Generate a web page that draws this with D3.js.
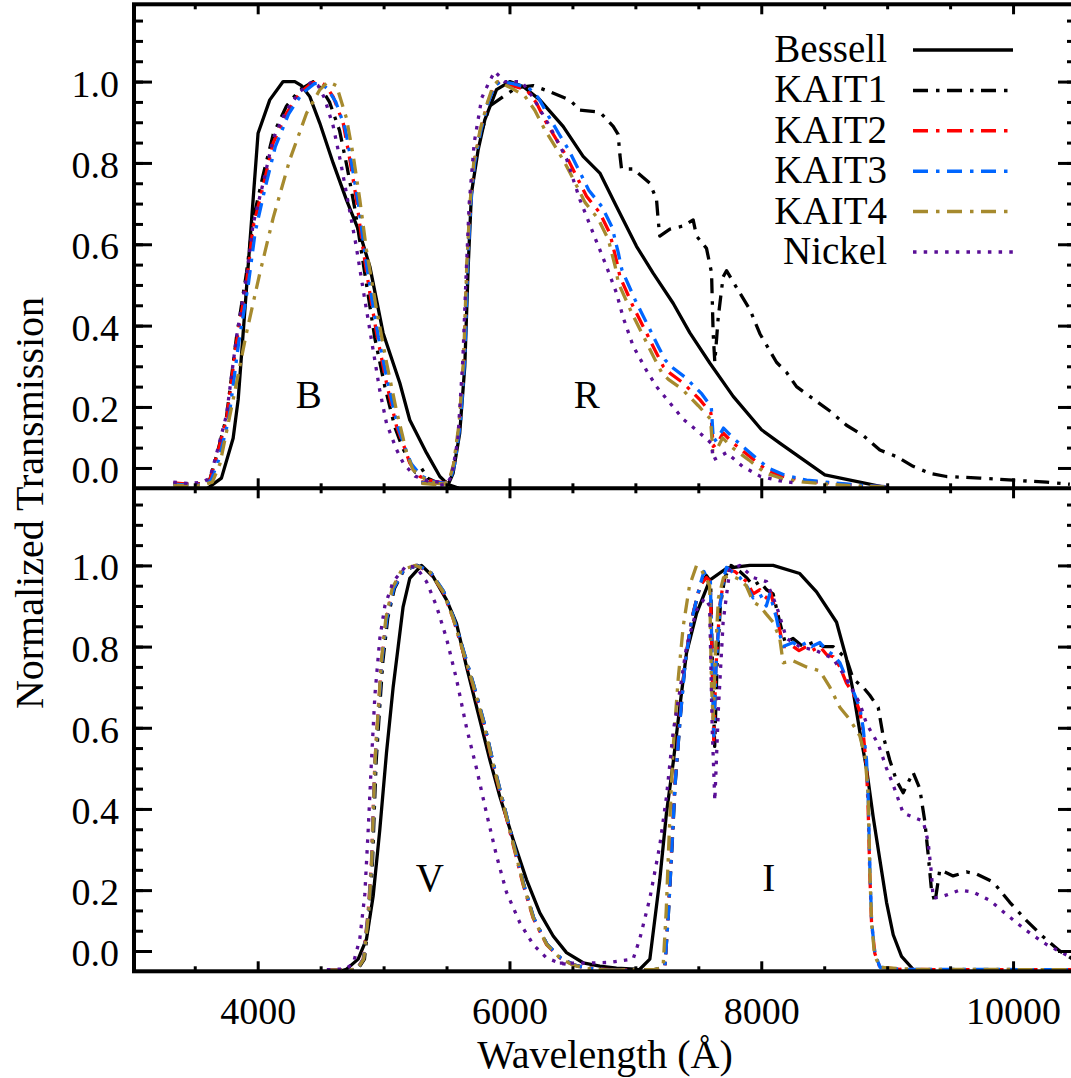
<!DOCTYPE html>
<html>
<head>
<meta charset="utf-8">
<script src="https://cdn.jsdelivr.net/npm/d3@7"></script>
<style>
  body { margin: 0; background: #fff; }
</style>
</head>
<body>
<svg id="chart" width="1071" height="1078"></svg>
<script>
// ---- filter curves, [wavelength (A), normalized transmission] ----

// top panel : B and R
var besselB = [[3600,0],[3620,0.004],[3712,0.025],[3805,0.123],[3845,0.218],[4003,0.873],[4096,0.955],[4202,1.0],[4295,1.0],[4348,0.99],[4414,0.963],[4493,0.898],[4599,0.80],[4705,0.709],[4811,0.627],[4891,0.545],[4996,0.382],[5129,0.259],[5208,0.168],[5341,0.087],[5447,0.029],[5513,0.009],[5600,0.0]];
var besselR = [[5513,0.009],[5552,0.037],[5605,0.136],[5645,0.30],[5672,0.545],[5698,0.726],[5751,0.832],[5804,0.906],[5897,0.98],[6003,1.0],[6109,0.988],[6241,0.955],[6426,0.89],[6585,0.816],[6718,0.775],[6850,0.693],[7009,0.595],[7141,0.529],[7300,0.455],[7433,0.382],[7591,0.308],[7777,0.226],[8002,0.144],[8147,0.111],[8505,0.033],[9021,0.0]];

var kait1B = [[3330,0.012],[3450,0.01],[3560,0.012],[3620,0.022],[3673,0.08],[3752,0.175],[3831,0.37],[3911,0.53],[3964,0.66],[4043,0.77],[4123,0.87],[4229,0.94],[4335,0.98],[4441,1.0],[4500,0.985],[4570,0.95],[4650,0.88],[4710,0.79],[4770,0.69],[4825,0.58],[4880,0.47],[4930,0.37],[5010,0.25],[5090,0.15],[5150,0.1],[5200,0.07],[5250,0.04],[5300,0.05],[5350,0.025],[5420,0.015],[5500,0.012]];
var kait1R = [[5300,0.015],[5400,0.012],[5480,0.012],[5526,0.02],[5560,0.06],[5605,0.16],[5640,0.32],[5665,0.55],[5690,0.70],[5720,0.80],[5770,0.87],[5844,0.94],[5950,0.963],[6056,0.985],[6188,0.99],[6320,0.975],[6479,0.955],[6559,0.93],[6718,0.925],[6824,0.89],[6863,0.87],[6877,0.82],[6890,0.785],[6982,0.785],[7115,0.75],[7168,0.71],[7181,0.66],[7194,0.62],[7274,0.637],[7380,0.645],[7459,0.66],[7486,0.62],[7565,0.59],[7605,0.53],[7618,0.38],[7631,0.31],[7658,0.42],[7697,0.52],[7724,0.535],[7830,0.48],[7909,0.44],[7989,0.38],[8121,0.31],[8201,0.285],[8280,0.25],[8412,0.22],[8545,0.19],[8677,0.155],[8809,0.13],[8942,0.094],[9074,0.078],[9206,0.054],[9339,0.037],[9471,0.029],[9736,0.025],[10000,0.02],[10267,0.015],[10451,0.01]];

var kait2B = [[3330,0.013],[3450,0.01],[3560,0.012],[3620,0.02],[3673,0.078],[3752,0.168],[3831,0.357],[3911,0.505],[3964,0.644],[4043,0.742],[4123,0.849],[4229,0.922],[4335,0.972],[4428,0.996],[4490,1.0],[4540,0.99],[4599,0.963],[4679,0.898],[4732,0.808],[4785,0.709],[4838,0.586],[4891,0.48],[4944,0.382],[5023,0.259],[5103,0.152],[5155,0.11],[5208,0.062],[5288,0.029],[5394,0.017],[5500,0.013]];
var kait2R = [[5300,0.015],[5400,0.012],[5480,0.012],[5526,0.02],[5560,0.06],[5605,0.16],[5640,0.32],[5665,0.55],[5690,0.70],[5720,0.80],[5770,0.88],[5830,0.95],[5880,0.99],[5923,1.0],[6020,0.99],[6135,0.98],[6215,0.947],[6294,0.898],[6374,0.857],[6453,0.816],[6532,0.767],[6612,0.718],[6718,0.677],[6797,0.627],[6850,0.56],[6877,0.521],[6982,0.447],[7088,0.382],[7168,0.332],[7221,0.30],[7274,0.283],[7380,0.259],[7512,0.218],[7600,0.185],[7618,0.103],[7650,0.11],[7697,0.136],[7777,0.111],[7909,0.078],[8042,0.045],[8174,0.029],[8350,0.018],[8545,0.013],[8800,0.006],[9000,0.004]];

var kait3B = [[3330,0.01],[3450,0.008],[3560,0.01],[3630,0.02],[3690,0.07],[3770,0.17],[3850,0.36],[3925,0.5],[3980,0.63],[4060,0.74],[4140,0.84],[4245,0.92],[4350,0.97],[4450,0.995],[4510,0.995],[4560,0.98],[4620,0.95],[4695,0.885],[4745,0.80],[4800,0.70],[4850,0.58],[4905,0.47],[4960,0.37],[5040,0.25],[5115,0.15],[5170,0.10],[5220,0.06],[5300,0.03],[5400,0.016],[5500,0.012]];
var kait3R = [[5300,0.014],[5400,0.011],[5480,0.011],[5530,0.02],[5565,0.06],[5610,0.16],[5645,0.32],[5668,0.55],[5693,0.70],[5723,0.80],[5773,0.88],[5833,0.95],[5883,0.99],[5930,1.0],[6030,0.995],[6150,0.985],[6230,0.96],[6310,0.915],[6390,0.873],[6470,0.832],[6550,0.783],[6630,0.733],[6735,0.692],[6815,0.642],[6865,0.578],[6893,0.537],[7000,0.462],[7105,0.397],[7185,0.347],[7238,0.315],[7290,0.298],[7396,0.273],[7528,0.232],[7603,0.2],[7620,0.115],[7652,0.122],[7700,0.148],[7790,0.12],[7920,0.085],[8055,0.05],[8190,0.032],[8360,0.02],[8555,0.014],[8800,0.007],[9000,0.004]];

var kait4B = [[3330,0.008],[3450,0.006],[3560,0.008],[3640,0.015],[3700,0.06],[3805,0.218],[3911,0.382],[4017,0.529],[4123,0.665],[4255,0.808],[4388,0.922],[4493,0.98],[4560,1.0],[4626,0.99],[4705,0.91],[4758,0.82],[4811,0.71],[4864,0.586],[4944,0.44],[5023,0.31],[5103,0.19],[5150,0.13],[5180,0.09],[5234,0.045],[5341,0.02],[5420,0.012],[5500,0.01]];
var kait4R = [[5300,0.012],[5400,0.01],[5480,0.01],[5522,0.02],[5556,0.06],[5600,0.16],[5636,0.32],[5661,0.55],[5686,0.70],[5716,0.80],[5766,0.88],[5826,0.95],[5870,0.99],[5905,1.0],[6010,0.985],[6120,0.965],[6200,0.93],[6280,0.882],[6360,0.842],[6440,0.80],[6520,0.752],[6600,0.703],[6705,0.662],[6785,0.612],[6840,0.545],[6865,0.505],[6970,0.432],[7075,0.367],[7155,0.317],[7208,0.285],[7262,0.268],[7370,0.244],[7500,0.203],[7597,0.17],[7615,0.09],[7648,0.097],[7693,0.124],[7770,0.1],[7900,0.07],[8030,0.038],[8165,0.024],[8340,0.015],[8540,0.01],[8800,0.005],[9000,0.003]];

var nickelB = [[3330,0.015],[3450,0.012],[3560,0.015],[3620,0.025],[3673,0.085],[3752,0.18],[3831,0.37],[3911,0.52],[3964,0.65],[4043,0.75],[4123,0.86],[4229,0.93],[4335,0.975],[4430,1.0],[4480,0.99],[4530,0.96],[4600,0.89],[4660,0.80],[4720,0.70],[4780,0.60],[4838,0.488],[4917,0.34],[4970,0.24],[5023,0.16],[5103,0.095],[5160,0.06],[5250,0.03],[5350,0.018],[5450,0.015]];
var nickelR = [[5450,0.008],[5500,0.01],[5540,0.03],[5590,0.12],[5630,0.32],[5655,0.52],[5680,0.70],[5720,0.85],[5780,0.96],[5840,1.0],[5883,1.025],[5960,1.0],[6096,1.0],[6188,0.96],[6320,0.89],[6453,0.81],[6559,0.71],[6665,0.627],[6771,0.545],[6850,0.48],[6903,0.42],[6982,0.35],[7088,0.29],[7168,0.25],[7247,0.22],[7380,0.17],[7512,0.136],[7605,0.11],[7618,0.07],[7650,0.075],[7724,0.088],[7850,0.054],[7989,0.03],[8150,0.018],[8300,0.012]];

// bottom panel : V and I
var besselV = [[4650,0.0],[4705,0.005],[4798,0.03],[4864,0.079],[4917,0.185],[4970,0.349],[5023,0.538],[5076,0.70],[5116,0.80],[5155,0.898],[5208,0.968],[5301,1.0],[5394,0.972],[5500,0.915],[5579,0.857],[5659,0.75],[5764,0.62],[5844,0.521],[5923,0.431],[6029,0.325],[6135,0.226],[6241,0.144],[6347,0.087],[6453,0.046],[6585,0.021],[6718,0.013],[6850,0.008],[7000,0.005]];
var besselI = [[6900,0.0],[7035,0.005],[7115,0.03],[7194,0.226],[7247,0.39],[7300,0.513],[7353,0.652],[7406,0.784],[7486,0.882],[7591,0.964],[7724,0.993],[7909,1.0],[8094,1.0],[8306,0.98],[8439,0.935],[8598,0.86],[8677,0.77],[8730,0.69],[8783,0.59],[8836,0.50],[8889,0.38],[8942,0.275],[8995,0.17],[9048,0.09],[9114,0.037],[9206,0.005],[9300,0.0]];

var kait1V = [[4550,0.003],[4700,0.003],[4795,0.005],[4848,0.03],[4888,0.148],[4912,0.271],[4926,0.394],[4941,0.517],[4967,0.64],[4994,0.763],[5033,0.87],[5086,0.943],[5160,0.988],[5270,1.0],[5372,0.984],[5478,0.935],[5557,0.87],[5637,0.787],[5716,0.705],[5796,0.615],[5875,0.508],[5955,0.41],[6034,0.312],[6114,0.213],[6193,0.131],[6299,0.066],[6405,0.033],[6510,0.016],[6612,0.008],[6800,0.004],[7000,0.003]];
var kait1I = [[6800,0.003],[7150,0.004],[7234,0.01],[7262,0.14],[7290,0.30],[7316,0.46],[7355,0.62],[7395,0.76],[7450,0.87],[7515,0.95],[7565,0.975],[7598,0.96],[7612,0.75],[7630,0.554],[7648,0.75],[7675,0.9],[7710,0.97],[7760,1.0],[7830,0.985],[7883,0.97],[7936,0.95],[7989,0.96],[8042,0.94],[8094,0.93],[8147,0.86],[8190,0.81],[8253,0.82],[8330,0.80],[8410,0.81],[8500,0.80],[8572,0.80],[8677,0.77],[8730,0.72],[8809,0.70],[8862,0.68],[8929,0.65],[8968,0.58],[9021,0.52],[9074,0.47],[9127,0.44],[9206,0.49],[9259,0.45],[9299,0.37],[9325,0.29],[9352,0.20],[9380,0.17],[9418,0.25],[9524,0.235],[9630,0.245],[9710,0.24],[9842,0.22],[9974,0.17],[10107,0.125],[10239,0.085],[10371,0.05],[10500,0.025]];

var kait2V = [[4550,0.003],[4700,0.003],[4785,0.005],[4838,0.03],[4878,0.148],[4904,0.271],[4917,0.394],[4931,0.517],[4957,0.64],[4984,0.763],[5023,0.87],[5076,0.943],[5155,0.988],[5261,1.0],[5367,0.984],[5473,0.935],[5552,0.87],[5632,0.787],[5711,0.705],[5791,0.615],[5870,0.508],[5950,0.41],[6029,0.312],[6109,0.213],[6188,0.131],[6294,0.066],[6400,0.033],[6506,0.016],[6612,0.008],[6800,0.004],[7000,0.003]];
var kait2I = [[6800,0.003],[7100,0.003],[7200,0.005],[7234,0.01],[7260,0.14],[7287,0.30],[7313,0.46],[7353,0.62],[7393,0.76],[7446,0.866],[7512,0.95],[7565,0.97],[7595,0.96],[7610,0.75],[7622,0.57],[7640,0.75],[7670,0.90],[7700,0.96],[7724,0.99],[7790,0.985],[7830,0.975],[7883,0.96],[7936,0.93],[7989,0.94],[8040,0.92],[8068,0.94],[8121,0.88],[8147,0.84],[8174,0.80],[8253,0.80],[8300,0.79],[8359,0.80],[8400,0.79],[8466,0.80],[8520,0.78],[8572,0.775],[8625,0.75],[8677,0.71],[8730,0.685],[8783,0.64],[8809,0.59],[8836,0.50],[8849,0.40],[8862,0.24],[8876,0.12],[8902,0.044],[8942,0.01],[9100,0.005],[9500,0.004],[10000,0.004],[10500,0.004]];

var kait3V = [[4550,0.002],[4700,0.002],[4788,0.005],[4840,0.03],[4880,0.148],[4906,0.271],[4919,0.394],[4933,0.517],[4959,0.64],[4986,0.763],[5026,0.87],[5080,0.943],[5158,0.988],[5265,1.0],[5370,0.985],[5476,0.937],[5555,0.872],[5635,0.79],[5714,0.708],[5794,0.618],[5873,0.511],[5953,0.413],[6032,0.315],[6112,0.215],[6191,0.133],[6297,0.067],[6403,0.034],[6509,0.016],[6615,0.008],[6800,0.003],[7000,0.002]];
var kait3I = [[6800,0.003],[7150,0.003],[7234,0.01],[7262,0.14],[7289,0.30],[7315,0.46],[7355,0.62],[7395,0.76],[7448,0.866],[7512,0.95],[7545,0.985],[7565,0.97],[7596,0.96],[7611,0.75],[7623,0.58],[7641,0.75],[7672,0.90],[7702,0.97],[7724,0.995],[7790,0.98],[7830,0.97],[7883,0.95],[7936,0.92],[7989,0.93],[8040,0.90],[8068,0.93],[8121,0.87],[8147,0.83],[8174,0.80],[8253,0.81],[8300,0.80],[8359,0.81],[8400,0.80],[8466,0.81],[8520,0.79],[8572,0.78],[8625,0.76],[8677,0.72],[8730,0.69],[8783,0.65],[8809,0.60],[8836,0.52],[8850,0.42],[8863,0.25],[8877,0.12],[8903,0.044],[8943,0.01],[9100,0.005],[10500,0.004]];

var kait4V = [[4550,0.003],[4700,0.003],[4790,0.005],[4842,0.03],[4882,0.148],[4906,0.271],[4919,0.394],[4932,0.517],[4957,0.64],[4982,0.763],[5018,0.87],[5068,0.943],[5145,0.99],[5255,1.0],[5362,0.986],[5470,0.937],[5550,0.872],[5630,0.79],[5710,0.707],[5790,0.617],[5870,0.51],[5950,0.412],[6030,0.314],[6110,0.214],[6190,0.131],[6296,0.066],[6402,0.032],[6508,0.015],[6612,0.007],[6800,0.003],[7000,0.003]];
var kait4I = [[6800,0.003],[7150,0.004],[7220,0.01],[7245,0.15],[7270,0.35],[7300,0.55],[7340,0.72],[7380,0.85],[7430,0.95],[7486,1.0],[7520,0.99],[7560,0.97],[7590,0.95],[7605,0.70],[7618,0.62],[7635,0.78],[7660,0.92],[7700,0.97],[7760,0.975],[7830,0.965],[7880,0.95],[7936,0.91],[7989,0.90],[8040,0.88],[8094,0.86],[8147,0.82],[8174,0.76],[8253,0.765],[8359,0.75],[8466,0.74],[8545,0.70],[8625,0.65],[8704,0.62],[8783,0.58],[8823,0.53],[8849,0.44],[8862,0.25],[8876,0.12],[8900,0.04],[8942,0.01],[9200,0.005],[10500,0.004]];

var nickelV = [[4550,0.004],[4700,0.006],[4760,0.02],[4811,0.08],[4851,0.19],[4878,0.35],[4904,0.52],[4931,0.68],[4970,0.82],[5010,0.90],[5076,0.96],[5182,1.0],[5261,0.995],[5341,0.96],[5420,0.90],[5500,0.82],[5579,0.72],[5659,0.60],[5738,0.50],[5817,0.39],[5897,0.285],[5976,0.195],[6082,0.12],[6188,0.066],[6294,0.033],[6400,0.02],[6500,0.015]];
var nickelI = [[6400,0.02],[6600,0.02],[6800,0.022],[6982,0.03],[7035,0.08],[7115,0.18],[7194,0.31],[7247,0.43],[7300,0.59],[7353,0.69],[7406,0.80],[7486,0.89],[7552,0.92],[7590,0.90],[7610,0.60],[7631,0.42],[7660,0.65],[7697,0.86],[7750,0.99],[7830,1.0],[7936,0.97],[8042,0.96],[8121,0.90],[8201,0.82],[8306,0.80],[8439,0.79],[8572,0.77],[8677,0.72],[8783,0.66],[8836,0.61],[8929,0.56],[8995,0.50],[9047,0.46],[9127,0.39],[9206,0.38],[9286,0.37],[9325,0.32],[9352,0.24],[9365,0.18],[9445,0.185],[9577,0.20],[9683,0.195],[9815,0.175],[9948,0.14],[10107,0.10],[10266,0.066],[10425,0.04],[10500,0.03]];

// legend / axes
var filterNames = ["Bessell", "KAIT1", "KAIT2", "KAIT3", "KAIT4", "Nickel"];
var xMajorTicks = [4000, 6000, 8000, 10000];
var yMajorTicks = [0.05, 0.2, 0.4, 0.6, 0.8, 1.0];
var yTickLabels = ["0.0", "0.2", "0.4", "0.6", "0.8", "1.0"];

// ---- drawing ----
var serif = "'Liberation Serif', 'Times New Roman', Times, serif";
var svg = d3.select("#chart").style("font-family", serif);
var frameL = 134, frameR = 1076;

var styles = {
  Bessell: {color: "#000000", dash: null},
  KAIT1:   {color: "#000000", dash: "15,8,3.5,7.5"},
  KAIT2:   {color: "#ff0000", dash: "15,8,3.5,7.5"},
  KAIT3:   {color: "#0066ff", dash: "15,8,3.5,7.5"},
  KAIT4:   {color: "#a68a2e", dash: "15,8,3.5,7.5"},
  Nickel:  {color: "#5a0f96", dash: "3.5,7.2"}
};

var x = d3.scaleLinear().domain([3000, 10500]).range([131.8, 1076]);

var panels = [
  {top: 4.3, bottom: 488.3,
   curves: {Bessell: [besselB, besselR], KAIT1: [kait1B, kait1R], KAIT2: [kait2B, kait2R],
            KAIT3: [kait3B, kait3R], KAIT4: [kait4B, kait4R], Nickel: [nickelB, nickelR]},
   bands: [{t: "B", w: 4406}, {t: "R", w: 6614}]},
  {top: 488.3, bottom: 971.3,
   curves: {Bessell: [besselV, besselI], KAIT1: [kait1V, kait1I], KAIT2: [kait2V, kait2I],
            KAIT3: [kait3V, kait3I], KAIT4: [kait4V, kait4I], Nickel: [nickelV, nickelI]},
   bands: [{t: "V", w: 5367}, {t: "I", w: 8060}]}
];

var defs = svg.append("defs");

panels.forEach(function(p, pi) {
  var y = d3.scaleLinear().domain([0, 1.19]).range([p.bottom, p.top]);
  var clipId = "clip" + pi;
  defs.append("clipPath").attr("id", clipId)
    .append("rect").attr("x", frameL).attr("y", p.top)
    .attr("width", frameR - frameL).attr("height", p.bottom - p.top);

  var line = d3.line()
      .x(function(d) { return x(d[0]); })
      .y(function(d) { return y(d[1]); });

  var g = svg.append("g").attr("clip-path", "url(#" + clipId + ")");
  filterNames.forEach(function(name) {
    p.curves[name].forEach(function(series) {
      g.append("path")
        .datum(series)
        .attr("d", line)
        .attr("fill", "none")
        .attr("stroke", styles[name].color)
        .attr("stroke-width", 3.3)
        .attr("stroke-linejoin", "round")
        .attr("stroke-dasharray", styles[name].dash);
    });
  });

  // band letters
  p.bands.forEach(function(b) {
    svg.append("text")
      .attr("x", x(b.w))
      .attr("y", y(0.197))
      .attr("text-anchor", "middle")
      .attr("font-size", 39)
      .text(b.t);
  });

  // y axes, minor then major, left and right
  var minor = d3.range(0.1, 1.16, 0.05);
  svg.append("g").attr("transform", "translate(" + frameL + ",0)")
    .call(d3.axisLeft(y).tickValues(minor).tickSize(-9).tickFormat(""));
  svg.append("g").attr("transform", "translate(" + frameL + ",0)")
    .call(d3.axisLeft(y).tickValues(yMajorTicks).tickSize(-18).tickPadding(15)
      .tickFormat(function(d, i) { return yTickLabels[i]; }));
  svg.append("g").attr("transform", "translate(" + frameR + ",0)")
    .call(d3.axisRight(y).tickValues(minor).tickSize(-9).tickFormat(""));
  svg.append("g").attr("transform", "translate(" + frameR + ",0)")
    .call(d3.axisRight(y).tickValues(yMajorTicks).tickSize(-18).tickFormat(""));

  // x axes at top and bottom of panel, ticks pointing inwards
  var xMinor = d3.range(3500, 10500, 500).filter(function(v) { return xMajorTicks.indexOf(v) < 0; });
  [["top", p.top], ["bottom", p.bottom]].forEach(function(s) {
    var ax = s[0] === "top" ? d3.axisTop : d3.axisBottom;
    svg.append("g").attr("transform", "translate(0," + s[1] + ")")
      .call(ax(x).tickValues(xMinor).tickSize(-5).tickFormat(""));
    var gm = svg.append("g").attr("transform", "translate(0," + s[1] + ")")
      .call(ax(x).tickValues(xMajorTicks).tickSize(-10)
        .tickFormat(pi === 1 && s[0] === "bottom" ? d3.format("d") : ""));
    gm.selectAll("text").attr("y", 52.7).attr("dy", 0);
  });
});

// common axis styling (d3 puts sans-serif on the axis groups, override it)
svg.selectAll(".domain").remove();
svg.selectAll("g").attr("font-family", null).attr("font-size", null);
svg.selectAll(".tick line").attr("stroke", "#000").attr("stroke-width", 3);
svg.selectAll(".tick text")
  .style("font-family", serif)
  .attr("font-size", 38)
  .attr("fill", "#000");
svg.selectAll(".tick text").filter(function() { return this.getAttribute("dy") === "0.32em"; })
  .attr("dy", "0.38em");

// frame
var frame = svg.append("g").attr("fill", "none").attr("stroke", "#000").attr("stroke-width", 4);
frame.append("rect").attr("x", frameL).attr("y", 4.3).attr("width", frameR - frameL).attr("height", 971.3 - 4.3);
frame.append("line").attr("x1", frameL).attr("x2", frameR).attr("y1", 488.3).attr("y2", 488.3);

// axis titles
svg.append("text")
  .attr("x", (frameL + frameR) / 2)
  .attr("y", 1068)
  .attr("text-anchor", "middle")
  .attr("font-size", 40)
  .text("Wavelength (\u00C5)");
svg.append("text")
  .attr("transform", "translate(43,503) rotate(-90)")
  .attr("text-anchor", "middle")
  .attr("font-size", 40)
  .text("Normalized Transmission");

// legend
var legendRowY = d3.scaleLinear().domain([0, 5]).range([50, 252]);
var leg = svg.append("g");
filterNames.forEach(function(name, i) {
  var ly = legendRowY(i);
  leg.append("text")
    .attr("x", 887)
    .attr("y", ly + 12)
    .attr("text-anchor", "end")
    .attr("font-size", 39)
    .text(name);
  leg.append("line")
    .attr("x1", 913).attr("x2", 1013)
    .attr("y1", ly).attr("y2", ly)
    .attr("stroke", styles[name].color)
    .attr("stroke-width", 3.5)
    .attr("stroke-dasharray", styles[name].dash);
});

svg.selectAll("text").style("font-family", serif).attr("fill", "#000");
</script>
</body>
</html>
